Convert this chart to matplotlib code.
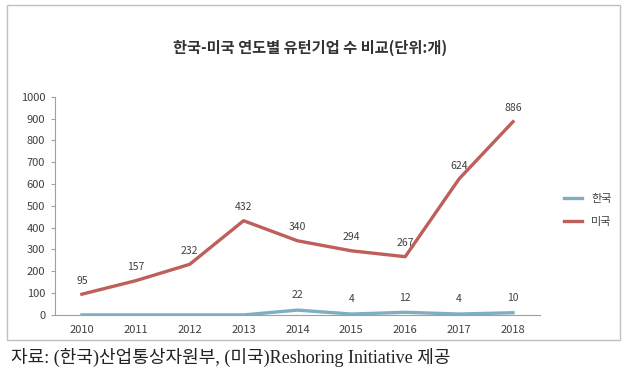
import matplotlib.pyplot as plt
from matplotlib.patches import Rectangle

plt.rcParams['font.family'] = ['Noto Sans CJK KR', 'DejaVu Sans']

years = ['2010', '2011', '2012', '2013', '2014', '2015', '2016', '2017', '2018']
korea = [0, 0, 0, 0, 22, 4, 12, 4, 10]
usa = [95, 157, 232, 432, 340, 294, 267, 624, 886]
korea_labeled = [False, False, False, False, True, True, True, True, True]

fig = plt.figure(figsize=(6.29, 3.74), dpi=100)
ax = fig.add_axes([0.0874, 0.158, 0.771, 0.583])

x = list(range(len(years)))
ax.plot(x, korea, color='#7FAEC4', lw=2.4, label='한국', solid_joinstyle='round')
ax.plot(x, usa, color='#BE5F5B', lw=2.4, label='미국', solid_joinstyle='round')

# data labels
for i, v in enumerate(usa):
    ax.annotate(str(v), (i, v), xytext=(0, 6), textcoords='offset points',
                ha='center', va='bottom', fontsize=7.5, color='#404040')
for i, v in enumerate(korea):
    if korea_labeled[i]:
        ax.annotate(str(v), (i, v), xytext=(0, 7), textcoords='offset points',
                    ha='center', va='bottom', fontsize=7.5, color='#404040')

ax.set_xlim(-0.5, len(years) - 0.5)
ax.set_ylim(0, 1000)
ax.set_yticks(range(0, 1001, 100))
ax.set_xticks(x)
ax.set_xticklabels(years)
ax.tick_params(axis='both', labelsize=8, colors='#404040')
ax.tick_params(axis='y', length=3, color='#A0A0A0', pad=4)
ax.tick_params(axis='x', length=0, pad=7)
for s in ['top', 'right']:
    ax.spines[s].set_visible(False)
for s in ['left', 'bottom']:
    ax.spines[s].set_color('#A0A0A0')
    ax.spines[s].set_linewidth(0.8)

ax.legend(loc='center left', bbox_to_anchor=(1.03, 0.48), frameon=False,
          fontsize=8, handlelength=1.6, labelspacing=1.2, labelcolor='#404040')

fig.text(0.493, 0.872, '한국-미국 연도별 유턴기업 수 비교(단위:개)', ha='center', va='center',
         fontsize=11, fontweight='bold', color='#333333')

# chart border
fig.patches.append(Rectangle((0.011, 0.09), 0.975, 0.897, transform=fig.transFigure,
                             fill=False, edgecolor='#C0C0C0', lw=1))

fig.text(0.018, 0.045, '자료: (한국)산업통상자원부, (미국)Reshoring Initiative 제공',
         ha='left', va='center', fontsize=13, color='#222222',
         family=['Liberation Serif', 'Noto Sans CJK KR'])

fig.savefig('out.png', dpi=100, facecolor='white')
